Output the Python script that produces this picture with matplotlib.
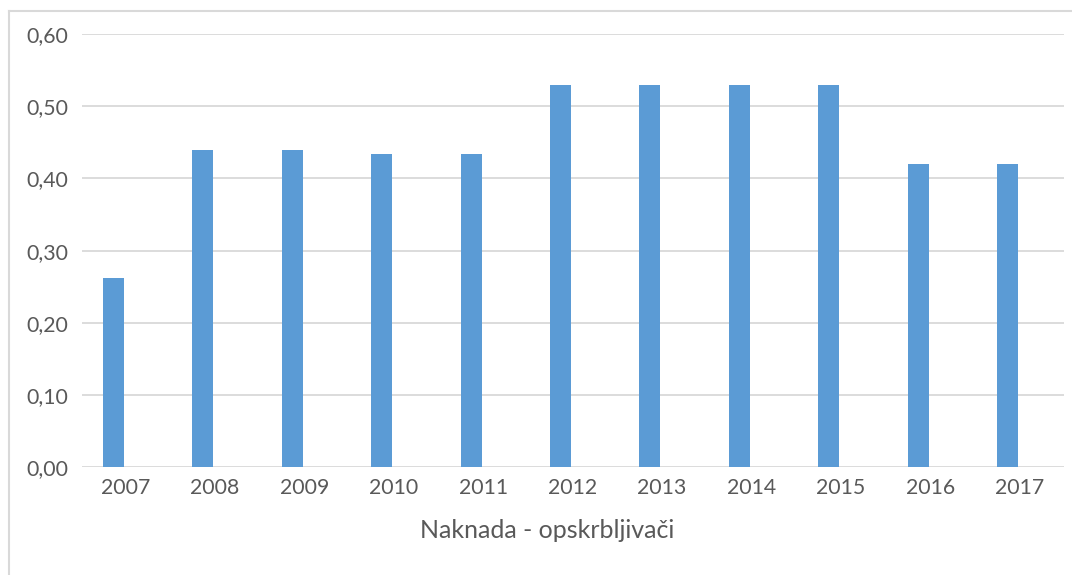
import matplotlib
matplotlib.use("Agg")
import matplotlib.pyplot as plt

years = ["2007", "2008", "2009", "2010", "2011", "2012", "2013", "2014", "2015", "2016", "2017"]
values = [0.262, 0.44, 0.44, 0.434, 0.434, 0.53, 0.53, 0.53, 0.53, 0.42, 0.42]
yticks = [0.0, 0.1, 0.2, 0.3, 0.4, 0.5, 0.6]
title = "Naknada - opskrbljivači"

plt.rcParams['font.family'] = ['Lato', 'DejaVu Sans']
text_color = "#595959"
grid_color = "#D9D9D9"
bar_color = "#5B9BD5"

W, H = 1072, 575
fig = plt.figure(figsize=(W / 100, H / 100), dpi=100)

# outer chart border (top and left visible)
fig.add_artist(plt.Line2D([8.5 / W, 8.5 / W], [0, 1 - 11 / H], transform=fig.transFigure,
                          color=grid_color, lw=1.5))
fig.add_artist(plt.Line2D([8.5 / W, 1], [1 - 11 / H, 1 - 11 / H], transform=fig.transFigure,
                          color=grid_color, lw=1.5))

left, right = 82, 1064
top, bottom = 34, 467.3
ax = fig.add_axes([left / W, 1 - bottom / H, (right - left) / W, (bottom - top) / H])

x = list(range(len(years)))
bw = 21 / 89.4
ax.bar(x, values, width=bw, color=bar_color, zorder=3)

ax.set_xlim((left - 113.5) / 89.4, (right - 113.5) / 89.4)
ax.set_ylim(0, 0.6)
ax.set_yticks(yticks)
ax.set_yticklabels([f"{v:.2f}".replace(".", ",") for v in yticks])
ax.set_xticks([i + 0.135 for i in x])
ax.set_xticklabels(years)
ax.grid(axis="y", color=grid_color, lw=1.3, zorder=0)
ax.set_axisbelow(True)
for s in ax.spines.values():
    s.set_visible(False)
ax.tick_params(axis="both", length=0, labelsize=15.3, colors=text_color)
ax.tick_params(axis="y", pad=10)
ax.tick_params(axis="x", pad=8)

fig.text(547.5 / W, 1 - 531 / H, title, ha="center", va="center", fontsize=18, color=text_color)

fig.savefig("out.png", dpi=100)
